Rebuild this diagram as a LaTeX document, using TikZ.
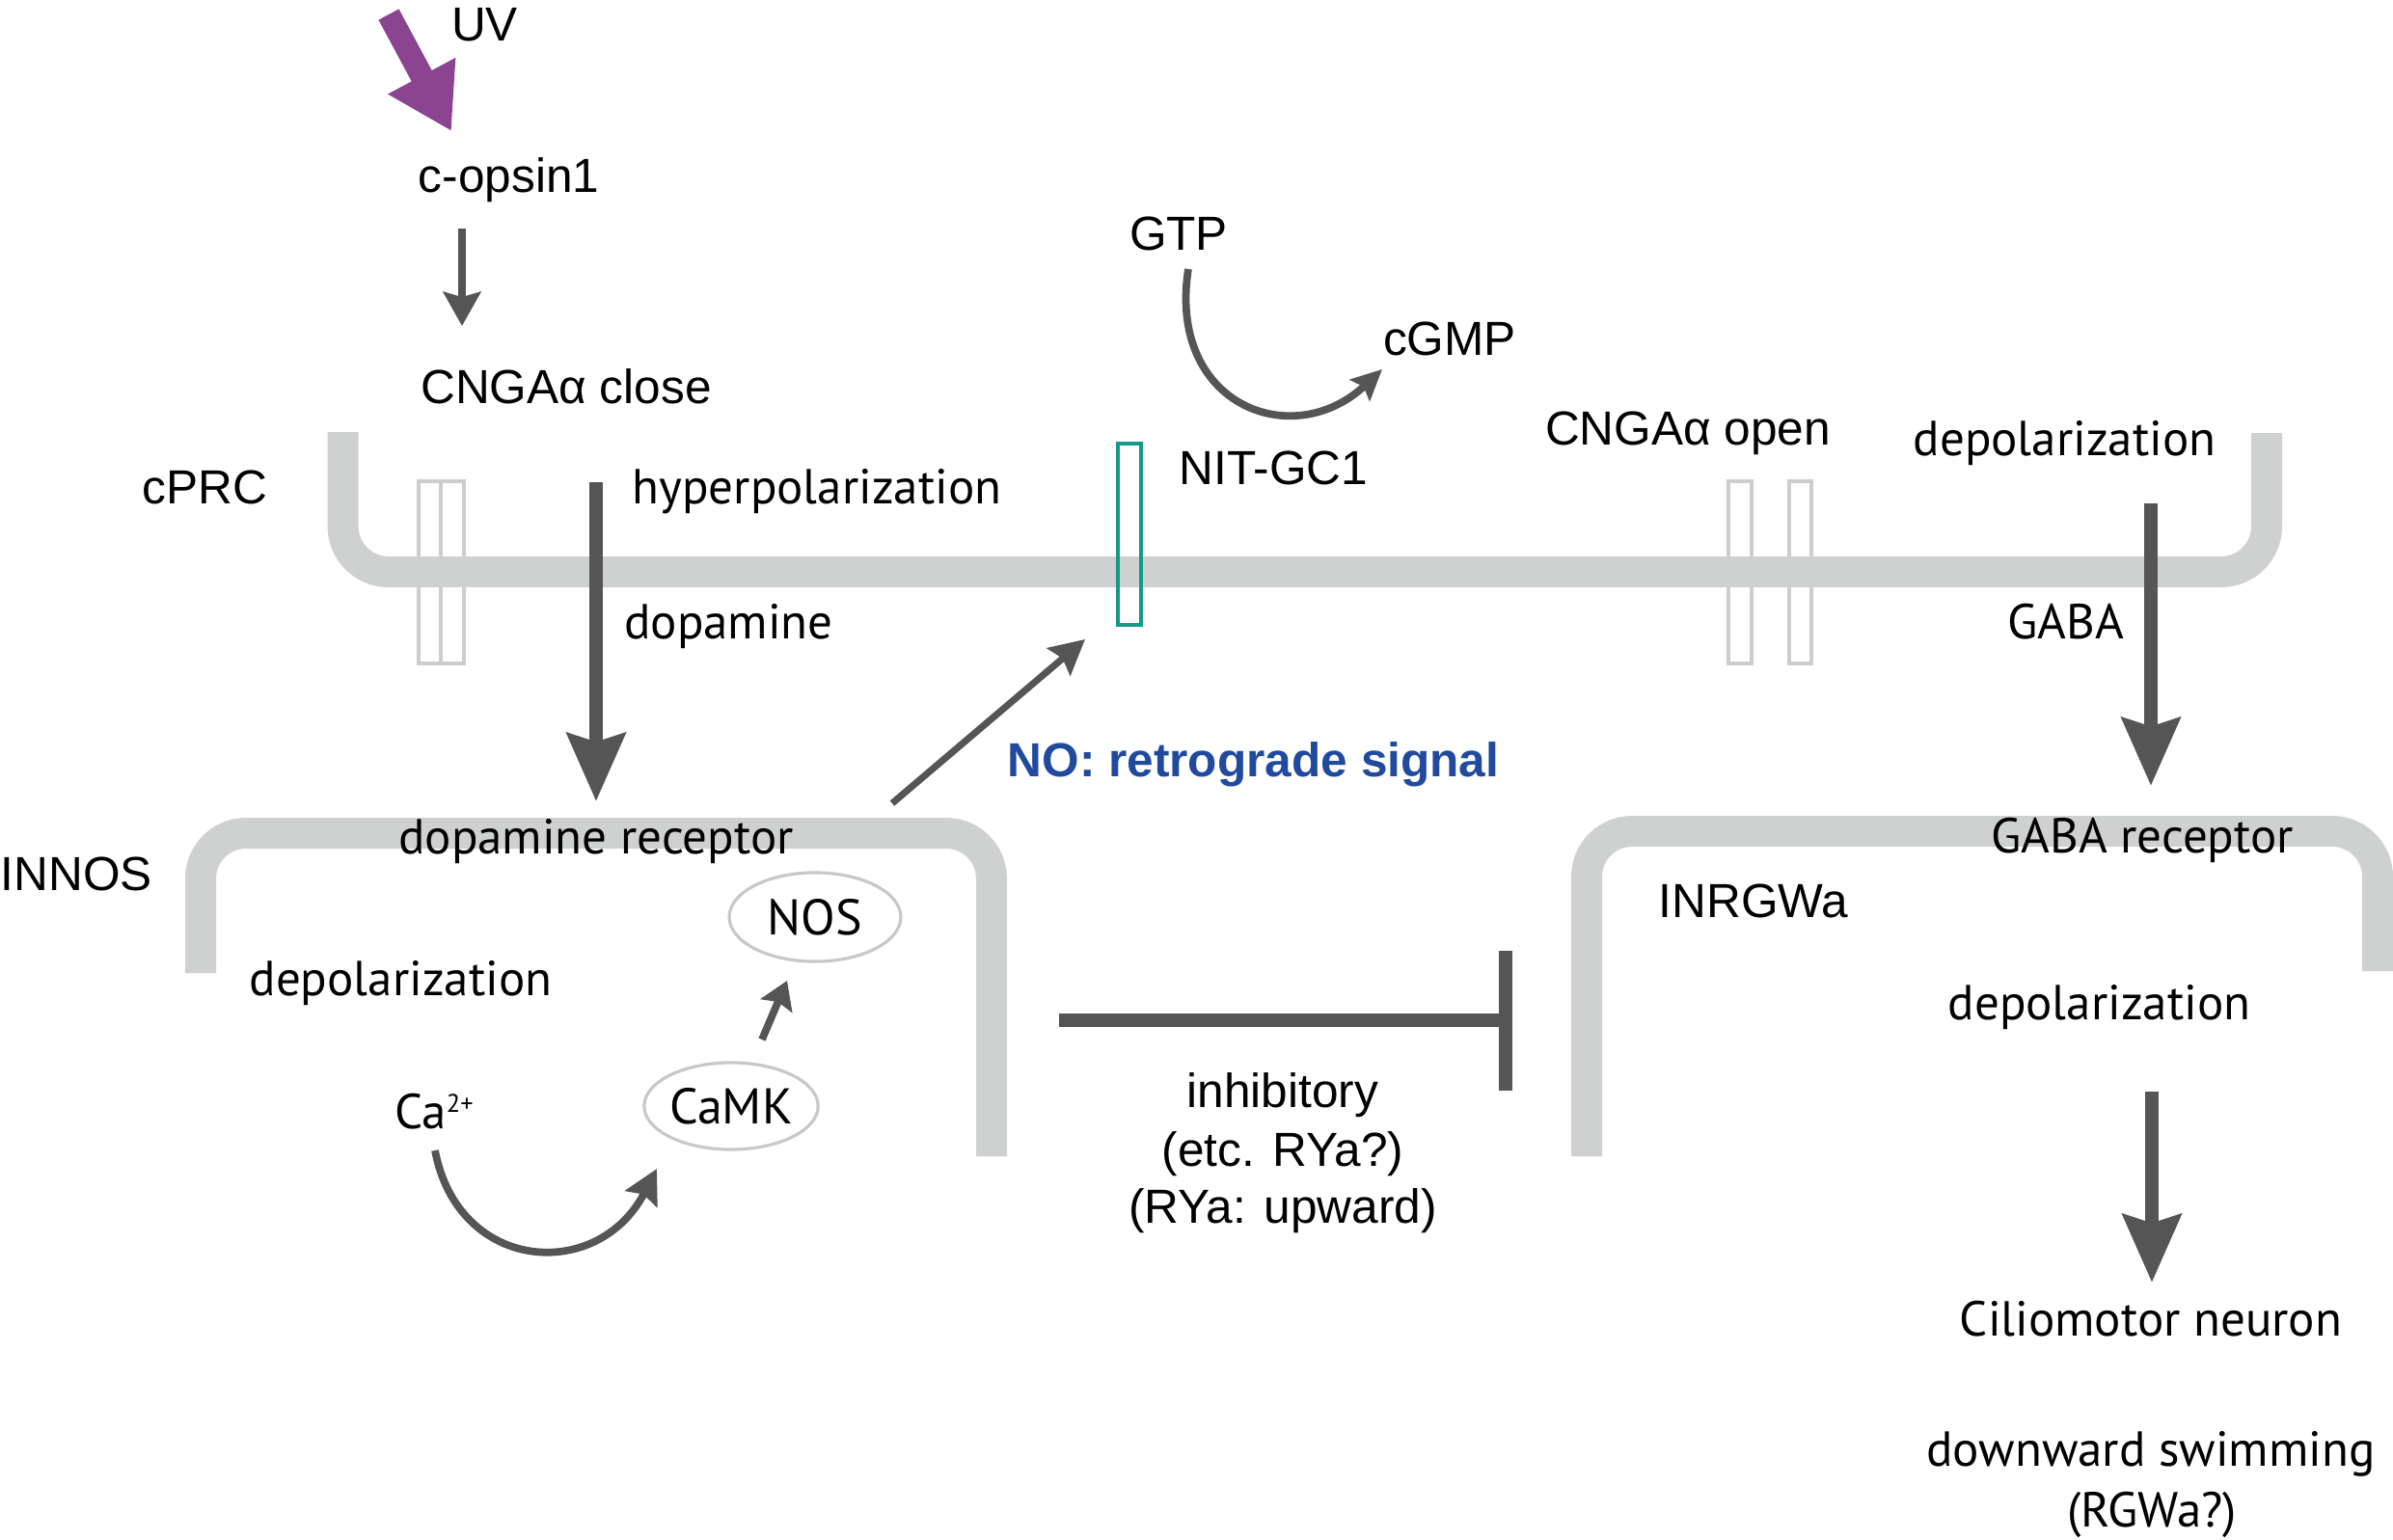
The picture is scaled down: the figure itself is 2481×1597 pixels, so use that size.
\documentclass[tikz,border=0pt]{standalone}
\usepackage{fontspec}
\setmainfont{Liberation Sans}
\newfontfamily\myr{PT Sans}
\usetikzlibrary{arrows.meta,shapes.geometric}
\definecolor{memgray}{RGB}{207,209,208}
\definecolor{chgray}{RGB}{205,205,205}
\definecolor{ellgray}{RGB}{200,200,200}
\definecolor{darkg}{RGB}{85,85,85}
\definecolor{purp}{RGB}{139,68,146}
\definecolor{tealc}{RGB}{20,155,135}
\definecolor{noblue}{RGB}{33,74,158}
\tikzset{
  A/.style={font=\fontsize{14.1}{17}\selectfont, inner sep=0pt, anchor=base},
  M/.style={font=\myr\fontsize{14.5}{17}\selectfont, inner sep=0pt, anchor=base},
  mem/.style={draw=memgray, line width=9.1pt, rounded corners=13.4pt},
  chan/.style={draw=chgray, line width=1pt},
  bigarr/.style={draw=darkg, line width=4pt, -{Stealth[length=20pt, width=17pt, inset=2.5pt]}},
  smallarr/.style={draw=darkg, line width=2.2pt, -{Stealth[length=10pt, width=11pt, inset=1.5pt]}},
  ell/.style={ellipse, draw=ellgray, line width=0.9pt, inner sep=0pt, font=\myr\fontsize{14.8}{17}\selectfont},
}
\begin{document}
\begin{tikzpicture}[x=0.01cm, y=-0.01cm]
\useasboundingbox (0,0) rectangle (2481,1597);
\fill[white] (0,0) rectangle (2481,1597);

% channels (under membrane)
\draw[chan] (434,499) rectangle (457,688);
\draw[chan] (457,499) rectangle (481,688);
\draw[chan] (1792,499) rectangle (1816,688);
\draw[chan] (1855,499) rectangle (1878,688);

% membranes
\draw[mem] (355.6,448) -- (355.6,593) -- (2350,593) -- (2350,449);
\draw[mem] (208,1009) -- (208,864) -- (1028,864) -- (1028,1199);
\draw[mem] (1645,1199) -- (1645,862) -- (2465,862) -- (2465,1007);

% NIT-GC1 receptor
\draw[tealc, line width=0.9pt] (1159,460) rectangle (1183,648);

% coordinates
\coordinate (uvS) at (403,15);
\coordinate (uvE) at (468,136);
\coordinate (opS) at (479,237);
\coordinate (opE) at (479,338);
\coordinate (daS) at (618,500);
\coordinate (daE) at (618,831);
\coordinate (noS) at (925,833);
\coordinate (noE) at (1125,663);
\coordinate (gtpS) at (1232,279);
\coordinate (gtpE) at (1433,383);
\coordinate (gabaS) at (2230,522);
\coordinate (gabaE) at (2230,815);
\coordinate (caS) at (451,1193);
\coordinate (caE) at (681,1212);
\coordinate (ckS) at (790,1078);
\coordinate (ckE) at (816,1017);
\coordinate (cmS) at (2231,1132);
\coordinate (cmE) at (2231,1330);
\coordinate (inS) at (1098,1058);
\coordinate (inE) at (1561,1058);
\coordinate (barT) at (1561,986);
\coordinate (barB) at (1561,1131);

% arrows
\draw[purp, line width=6.8pt, -{Triangle[length=18.5pt, width=21.3pt]}] (uvS) -- (uvE);
\draw[smallarr] (opS) -- (opE);
\draw[bigarr] (daS) -- (daE);
\draw[draw=darkg, line width=2pt, -{Stealth[length=10.2pt, width=10.5pt, inset=1.5pt]}] (noS) -- (noE);
\draw[smallarr, -{Stealth[length=9pt, width=8.5pt, inset=1.5pt]}] (gtpS) .. controls (1210,420) and (1340,470) .. (gtpE);
\draw[bigarr] (gabaS) -- (gabaE);
\draw[smallarr, -{Stealth[length=10pt, width=10.5pt, inset=1.5pt]}] (caS) .. controls (475,1320) and (620,1330) .. (caE);
\draw[smallarr, -{Stealth[length=8pt, width=10pt, inset=1.2pt]}] (ckS) -- (ckE);
\draw[bigarr] (cmS) -- (cmE);
\draw[darkg, line width=4pt] (inS) -- (inE);
\draw[darkg, line width=4pt] (barT) -- (barB);

% ellipses
\node[ell, minimum width=50.6pt, minimum height=26.2pt] (nos) at (845,951) {NOS};
\node[ell, minimum width=50.6pt, minimum height=25.6pt] (camk) at (758,1147) {CaMK};

% Arial texts
\node[A] (uv) at (502.5,43) {UV};
\node[A] (copsin) at (527.5,200) {c-opsin1};
\node[A] (cngclose) at (587,418) {CNGAα close};
\node[A] (cprc) at (212.5,522) {cPRC};
\node[A] (gtp) at (1222,260) {GTP};
\node[A] (cgmp) at (1503,368) {cGMP};
\node[A] (nitgc) at (1320.5,502) {NIT-GC1};
\node[A] (cngopen) at (1750,462) {CNGAα open};
\node[A, anchor=base west] (innos) at (0,923) {INNOS};
\node[A] (inrgwa) at (1818,951) {INRGWa};
\node[A, font=\fontsize{14.1}{17}\selectfont\bfseries, text=noblue] (nolab) at (1299.5,805) {NO: retrograde signal};
\node[A] (inh1) at (1330,1148) {inhibitory};
\node[A] (inh2) at (1330,1209) {(etc. RYa?)};
\node[A] (inh3) at (1330,1268) {(RYa: upward)};

% Myriad-like texts
\node[M] (hyper) at (847,522) {hyperpolarization};
\node[M] (dopa) at (755.5,662) {dopamine};
\node[M] (depol1) at (2140.5,472) {depolarization};
\node[M] (gaba) at (2142,662) {GABA};
\node[M] (darec) at (618,885) {dopamine receptor};
\node[M] (depol2) at (415.5,1032) {depolarization};
\node[M] (ca) at (450,1170) {Ca\raisebox{4.6pt}{\fontsize{7.5}{8}\selectfont 2+}};
\node[M] (gabarec) at (2221,884) {GABA receptor};
\node[M] (depol3) at (2176.5,1057) {depolarization};
\node[M] (cilio) at (2230,1385) {Ciliomotor neuron};
\node[M] (down1) at (2230,1520) {downward swimming};
\node[M] (down2) at (2231,1583) {(RGWa?)};
\end{tikzpicture}
\end{document}
